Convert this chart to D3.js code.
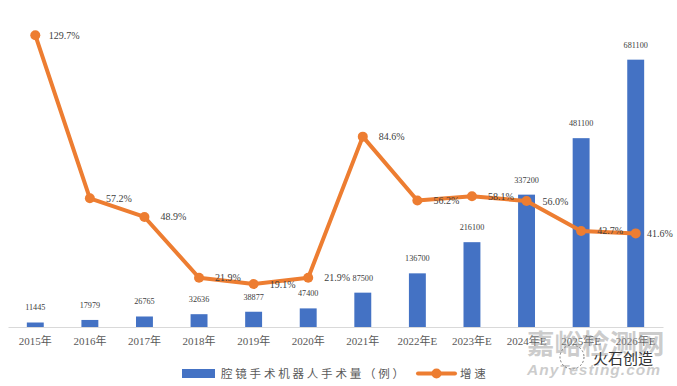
<!DOCTYPE html>
<html>
<head>
<meta charset="utf-8">
<script src="https://cdn.jsdelivr.net/npm/d3@7"></script>
<style>
  html, body { margin: 0; padding: 0; background: #fff; }
  svg { display: block; }
  text { font-family: "Liberation Serif", "Noto Sans CJK SC", serif; }
</style>
</head>
<body>
<div id="chart"></div>
<script>
const years = ["2015年", "2016年", "2017年", "2018年", "2019年", "2020年", "2021年",
  "2022年E", "2023年E", "2024年E", "2025年E", "2026年E"];
const surgeries = [11445, 17979, 26765, 32636, 38877, 47400, 87500,
  136700, 216100, 337200, 481100, 681100];
const growth = [129.7, 57.2, 48.9, 21.9, 19.1, 21.9, 84.6, 56.2, 58.1, 56.0, 42.7, 41.6];
const barLegend = "腔镜手术机器人手术量（例）";
const lineLegend = "增速";

const width = 677;
const height = 386;
const margin = { top: 12, right: 14, bottom: 59, left: 8 };

const svg = d3.select("#chart")
  .append("svg")
    .attr("width", width)
    .attr("height", height)
    .attr("viewBox", [0, 0, width, height]);

// Scales
const xScale = d3.scaleBand()
  .domain(years)
  .range([margin.left, width - margin.right])
  .paddingInner(0.69)
  .paddingOuter(0.345);
const yBars = d3.scaleLinear()
  .domain([0, 800000])
  .range([height - margin.bottom, margin.top + 1]);
const yLine = d3.scaleLinear()
  .domain([0, 140])
  .range([height - margin.bottom, margin.top]);
const xCenter = d => xScale(d) + xScale.bandwidth() / 2;

// Bottom axis
const bottomAxis = d3.axisBottom(xScale).tickSize(0).tickPadding(10);
const axisG = svg.append("g")
  .attr("transform", `translate(0, ${height - margin.bottom})`)
  .call(bottomAxis);
axisG.select(".domain").attr("stroke", "#d9d9d9").attr("stroke-width", 1);
axisG.selectAll("text")
  .attr("fill", "#595959")
  .style("font-size", "11px");

// Bars
svg.append("g")
  .selectAll("rect")
  .data(surgeries)
  .join("rect")
    .attr("x", (d, i) => xScale(years[i]))
    .attr("y", d => yBars(d))
    .attr("width", xScale.bandwidth())
    .attr("height", d => yBars(0) - yBars(d))
    .attr("fill", "#4472c4");

// Bar labels
svg.append("g")
  .selectAll("text")
  .data(surgeries)
  .join("text")
    .attr("x", (d, i) => xCenter(years[i]))
    .attr("y", d => yBars(d) - 15)
    .attr("dy", "0.35em")
    .attr("text-anchor", "middle")
    .attr("fill", "#404040")
    .style("font-size", "8.2px")
    .text(d => d);

// Growth line
const lineGenerator = d3.line()
  .x((d, i) => xCenter(years[i]))
  .y(d => yLine(d));
svg.append("path")
  .attr("d", lineGenerator(growth))
  .attr("fill", "none")
  .attr("stroke", "#ed7d31")
  .attr("stroke-width", 4)
  .attr("stroke-linejoin", "round");
svg.append("g")
  .selectAll("circle")
  .data(growth)
  .join("circle")
    .attr("cx", (d, i) => xCenter(years[i]))
    .attr("cy", d => yLine(d))
    .attr("r", 5)
    .attr("fill", "#ed7d31");

// Growth labels, the last one is pushed back in so it fits
svg.append("g")
  .selectAll("text")
  .data(growth)
  .join("text")
    .attr("x", (d, i) => Math.min(xCenter(years[i]) + 29, 660))
    .attr("y", d => yLine(d))
    .attr("dy", "0.35em")
    .attr("text-anchor", "middle")
    .attr("fill", "#404040")
    .style("font-size", "10px")
    .text(d => d.toFixed(1) + "%");

// Legend
const legend = svg.append("g").attr("fill", "#595959").style("font-size", "11.5px");
legend.append("rect")
  .attr("x", 182).attr("y", 369)
  .attr("width", 33).attr("height", 9)
  .attr("fill", "#4472c4");
legend.append("text")
  .attr("x", 221).attr("y", 373.5)
  .attr("dy", "0.35em")
  .attr("letter-spacing", "2.8px")
  .text(barLegend);
legend.append("line")
  .attr("x1", 418).attr("x2", 455)
  .attr("y1", 373.5).attr("y2", 373.5)
  .attr("stroke", "#ed7d31")
  .attr("stroke-width", 4)
  .attr("stroke-linecap", "round");
legend.append("circle")
  .attr("cx", 436.5).attr("cy", 373.5)
  .attr("r", 5)
  .attr("fill", "#ed7d31");
legend.append("text")
  .attr("x", 460).attr("y", 373.5)
  .attr("dy", "0.35em")
  .attr("letter-spacing", "2.8px")
  .text(lineLegend);

// Watermarks sitting over the bottom right corner
svg.append("text")
  .attr("x", 527).attr("y", 354)
  .attr("fill", "#9a9a9a").attr("fill-opacity", 0.5)
  .style("font-family", "'Noto Sans CJK SC'")
  .style("font-size", "27.5px")
  .style("font-weight", "700")
  .text("嘉峪检测网");
svg.append("text")
  .attr("x", 527).attr("y", 375)
  .attr("fill", "#9a9a9a").attr("fill-opacity", 0.5)
  .style("font-family", "'Liberation Sans'")
  .style("font-size", "15.5px")
  .style("font-weight", "700")
  .style("font-style", "italic")
  .attr("letter-spacing", "1px")
  .text("AnyTesting.com");
svg.append("circle")
  .attr("cx", 572).attr("cy", 357)
  .attr("r", 12)
  .attr("fill", "none")
  .attr("stroke", "#777")
  .attr("stroke-dasharray", "2 2");
svg.append("text")
  .attr("x", 593).attr("y", 364)
  .attr("fill", "#333")
  .style("font-family", "'Noto Sans CJK SC'")
  .style("font-size", "15px")
  .text("火石创造");
</script>
</body>
</html>
